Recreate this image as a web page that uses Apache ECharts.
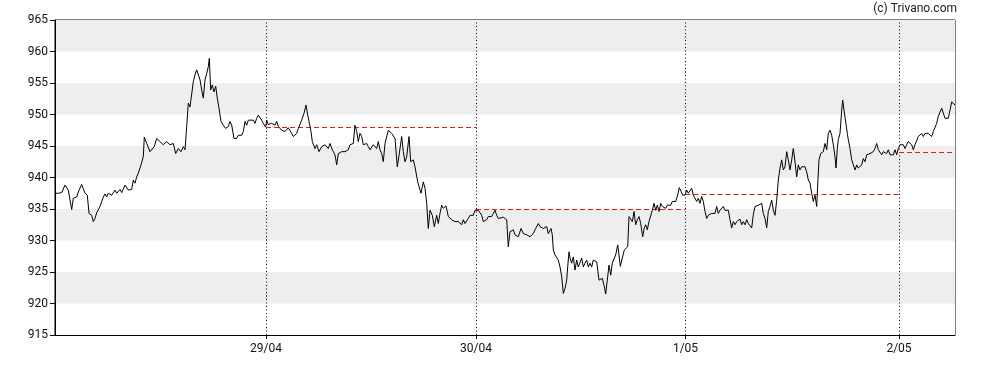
<!DOCTYPE html>
<html>
<head>
<meta charset="utf-8">
<script src="https://cdn.jsdelivr.net/npm/echarts@6/dist/echarts.min.js"></script>
<style>html,body{margin:0;padding:0;background:#fff}#c{width:988px;height:370px}</style>
</head>
<body>
<div id="c"></div>
<script>
// session-time positions (trading time units) and prices
const times = [
0,3.3,6.7,10,13.3,16.7,18.3,21.7,23.3,26.7,30,32.3,34,36.7,38.3,40,41.7,45,48.3,50,51.7,53.3,55,56.7,58.3,60,61.7,65,66.7,70,73.3,76.7,
78.3,80,81.7,83.3,86,88.3,89.3,91.7,95,96.7,99.3,101.7,105,108.3,111.7,115,118.3,120.7,123.3,126,128.3,130,131.7,133.3,135,136.7,
138.3,140,141.7,143.3,145,146.7,148.3,150,151.7,153.3,154.3,155.7,157.3,159,160.7,162.3,164,166,168.3,170.7,173.3,175,176.7,179,181.7,183.3,
185,186.7,188.3,190,191.7,193.3,195,198.3,200,201.7,203.3,206.7,208.3,210.7,211.7,213.3,216.7,220,221.7,223.3,225,226.7,230,233.3,236.7,238.3,
241.7,243.3,245,246.7,249,251,252.7,254,256,257.3,260,261.7,264,266.7,270,273.3,275,277.3,280,281.7,283.3,286.7,290,293.3,295,298.3,
300,301.7,303.3,305,306.7,308.3,311.7,313.3,315,318.3,321.7,323.3,325,326.7,328.3,330,333.3,336.7,340,342.3,344.3,346.7,348.3,350,351.7,
354,355.7,358.3,360,362.7,364.3,366,368.3,370,371.7,373.3,375,377.3,379.3,381.7,383.3,385,386.7,388.3,391,393.3,396.7,400,403.3,405,406.7,
408.3,410,411.7,413.3,415,418.3,420,423.3,425,426.7,428.3,431.7,433.3,436.7,440,441.7,443.3,445,448.3,451.7,453.3,455,458.3,460,463.3,466,
468.3,471.7,475,478.3,480,483.3,485,488.3,491.7,493.3,496,497.3,498.3,500,501.7,503.3,505,506.7,508.3,510,511.7,512.7,514,515,516.7,518.3,
520,521.7,523.3,525,526.7,528.3,530,531.7,533.3,535,536.7,538.3,540,541.7,544,546,547.3,549.3,550.7,552.3,554,555.7,557.3,559.3,560.7,
562.7,564,565.3,567.3,569.3,571,572.7,574,575.7,577.3,579,580.7,582.3,584,585.7,587.7,589.3,590.7,592.3,594,595.7,597.3,599,600.7,602.3,
604,605.7,607.3,609,610.7,612.3,614,615.7,617.3,620.7,622.7,624.3,626,627.7,630,631.7,633.3,635,636.7,638.3,640,641.7,643.3,645,646.7,
648.3,650,651.7,653.3,655,656.7,658.3,660,661.7,663.3,665,666.7,668.3,670,671.7,673.3,675,676.7,678.3,680,681.7,683.3,685,686.7,688.3,
690,691.7,693.3,695,696.7,698.3,700,701.7,703.3,705,706.7,708.3,710,711.7,713.3,715,716.7,718.3,720,721.7,723.3,725,726.7,728.3,730,
731.7,733.3,735,736.7,738.3,740,741.7,743.3,745,746.7,748.3,750,751.7,753.3,755,756.7,758.3,760,761.7,762.7,764,765.7,768.3,770,771.7,
773.3,775,776.7,778.3,780,781,782.3,783.3,785,786.7,787.7,789,790.7,792.3,793.3,795,796.7,798.3,800,801.7,803.3,805,806.7,808.3,810,
811.7,813.3,815,816.7,818.3,820,821.7,823.3,825,826.7,828.3,830,831.7,833.3,835,836.7,838.3,840,841.7,843.3,845,846.7,848.3,850,851.7,
853.3,855,856.7,858.3,860,861.7,863.3,865,866.7,868.3,870,871.7,873.3,875,876.7,878.3,880,881.7,883.3,885,886.7,888.3,890,891.7,893.3,
895,896.7,898.3,900
];
const prices = [
937.5,937.5,937.6,938.8,938.0,934.9,936.7,936.9,937.7,938.9,937.5,937.2,934.3,934.0,933.0,933.5,934.4,935.4,936.9,937.4,936.9,937.5,937.7,937.2,937.5,938.0,937.5,938.1,937.6,938.8,938.0,938.1,
939.6,939.1,940.1,940.7,942.0,943.3,946.4,945.4,944.1,943.8,944.9,946.2,945.7,945.2,945.7,945.2,945.4,943.8,944.6,944.1,944.9,944.4,948.1,951.8,951.2,951.0,
955.2,956.3,957.1,956.8,955.5,953.9,952.6,955.5,956.5,957.6,958.9,953.9,954.7,953.6,954.5,952.6,951.0,948.9,948.3,947.8,948.1,948.9,948.3,946.2,946.2,946.7,
947.0,946.7,947.3,948.9,948.3,949.1,949.4,949.1,948.6,949.4,949.9,949.1,948.6,948.0,949.1,948.4,948.6,948.3,948.9,948.1,948.3,947.5,947.3,947.9,947.0,946.5,
947.0,947.8,948.1,949.1,950.2,951.5,949.9,948.9,947.3,945.7,944.6,945.2,944.1,944.9,945.2,944.6,945.4,944.4,943.6,942.0,943.8,944.1,944.1,944.4,945.2,945.4,
948.3,947.3,945.7,947.0,946.5,945.2,945.4,944.9,944.4,945.2,944.6,945.7,944.4,943.8,942.5,945.4,947.5,947.0,946.2,941.7,943.8,946.5,944.1,942.5,943.3,
946.5,942.5,942.8,941.7,939.3,939.1,937.5,939.3,938.3,935.9,931.9,934.8,934.0,932.2,934.0,932.7,934.3,935.6,935.1,935.5,933.8,933.3,933.0,933.0,932.7,932.5,
933.3,932.7,932.6,933.5,934.0,934.0,934.8,934.8,934.6,934.0,933.0,933.3,933.8,933.8,934.8,934.0,933.5,933.8,933.7,933.3,929.0,931.4,931.7,930.9,930.6,931.9,
931.1,930.9,930.6,931.1,931.7,932.7,932.2,931.9,932.2,931.1,931.9,930.9,928.5,927.7,928.0,926.9,925.8,924.3,921.6,922.4,923.7,925.8,928.2,927.2,926.4,927.4,
925.3,926.9,925.8,926.1,927.2,925.8,926.4,926.9,925.8,926.4,925.8,926.9,927.0,926.6,923.7,923.5,924.0,922.7,921.5,923.7,926.1,924.5,926.4,927.2,927.7,
929.3,927.7,925.9,926.1,928.5,928.8,929.0,933.8,934.1,933.0,934.6,932.5,933.3,933.8,932.7,930.6,932.0,932.5,931.7,933.0,932.7,934.8,935.9,934.8,935.6,
934.6,935.9,935.4,935.6,935.1,935.6,935.4,935.6,936.2,936.2,937.2,938.4,937.8,937.2,937.2,938.0,937.5,937.8,938.3,937.2,937.5,936.2,936.7,935.9,937.0,
936.2,934.6,933.5,934.0,933.8,934.3,934.6,934.3,935.4,934.3,934.8,934.6,935.4,934.8,934.6,934.8,933.3,932.0,933.0,932.5,933.0,932.7,933.4,932.5,933.0,
932.5,933.3,932.7,932.5,932.0,934.1,935.4,935.6,935.6,935.4,935.9,934.3,933.5,932.0,934.6,935.4,936.4,934.8,934.0,936.4,939.6,941.5,942.8,941.2,941.7,
944.1,942.8,941.2,942.8,944.6,942.5,940.1,942.0,941.2,941.7,942.0,941.7,940.9,939.6,939.1,937.5,936.2,937.2,935.4,938.8,942.8,943.8,944.1,945.4,944.4,
947.0,947.5,946.7,945.2,943.3,941.5,944.6,946.0,947.0,950.7,952.3,950.7,951.0,947.0,946.0,944.6,942.8,942.5,941.2,942.0,941.5,941.7,942.0,943.0,942.5,
943.6,943.3,943.8,943.6,944.1,944.6,945.4,944.4,944.1,943.6,944.1,944.4,943.8,944.4,943.6,943.3,943.6,944.4,943.6,944.6,945.2,944.9,945.2,944.6,945.2,
945.7,945.4,945.2,944.4,945.2,945.4,946.5,946.5,947.0,946.5,947.0,946.7,947.0,946.7,946.5,947.3,947.0,948.6,949.7,950.4,951.0,950.7,949.4,949.7,949.4,
950.7,952.0,952.3,951.5
];
// day boundaries (session-time units), labels and previous-close reference levels
const dayStarts = [211, 421, 630.5, 844];
const dayLabels = ['29/04', '30/04', '1/05', '2/05'];
const dayEnds = [421, 630.5, 844, 900];
const refLevels = [948.0, 935.0, 937.4, 944.0];
const yTicks = [915, 920, 925, 930, 935, 940, 945, 950, 955, 960, 965];

const lineData = times.map((t, i) => [t, prices[i]]);
const refLines = refLevels.map((v, i) => [{coord: [dayStarts[i], v]}, {coord: [dayEnds[i], v]}]);
const vLines = dayStarts.map(d => ({xAxis: d}));

const chart = echarts.init(document.getElementById('c'), null, {renderer: 'canvas'});
chart.setOption({
  animation: false,
  backgroundColor: '#fff',
  textStyle: {fontFamily: 'Roboto'},
  grid: {left: 55, right: 33, top: 20, bottom: 35, show: true, borderColor: '#000', borderWidth: 1, backgroundColor: 'transparent'},
  graphic: [{
    type: 'text', right: 31, top: 3,
    style: {text: '(c) Trivano.com', fontFamily: 'Roboto', fontSize: 12, fill: '#222'}
  }],
  xAxis: {
    type: 'value', min: 0, max: 900,
    axisLine: {show: true, lineStyle: {color: '#000', width: 1}},
    axisTick: {show: true, length: 4, customValues: dayStarts, lineStyle: {color: '#000'}},
    axisLabel: {
      customValues: dayStarts, margin: 8, fontSize: 12, color: '#111', fontFamily: 'Roboto',
      formatter: v => { const i = dayStarts.indexOf(v); return i >= 0 ? dayLabels[i] : ''; }
    },
    splitLine: {show: false}
  },
  yAxis: {
    type: 'value', min: 915, max: 965, interval: 5,
    axisLine: {show: true, lineStyle: {color: '#000', width: 1}},
    axisTick: {show: true, length: 5, lineStyle: {color: '#000'}},
    axisLabel: {margin: 7, fontSize: 12, color: '#111', fontFamily: 'Roboto',
      formatter: v => yTicks.includes(v) ? String(v) : ''},
    splitLine: {show: false},
    splitArea: {show: true, areaStyle: {color: ['#ffffff', '#eeeeee']}}
  },
  series: [{
    name: 'price', type: 'line', data: lineData, showSymbol: false, symbol: 'none',
    lineStyle: {color: '#000', width: 1}, itemStyle: {color: '#000'}, z: 5,
    markLine: {
      silent: true, symbol: 'none', animation: false,
      label: {show: false},
      lineStyle: {color: '#000', width: 1, type: [1, 2.5], opacity: 1},
      emphasis: {disabled: true},
      data: vLines
    }
  }, {
    name: 'ref', type: 'line', data: [], showSymbol: false, z: 4,
    itemStyle: {color: '#e8191d'},
    markLine: {
      silent: true, symbol: 'none', animation: false,
      label: {show: false},
      lineStyle: {color: '#e8191d', width: 1, type: [5, 3], opacity: 1},
      emphasis: {disabled: true},
      data: refLines
    }
  }]
});
</script>
</body>
</html>
